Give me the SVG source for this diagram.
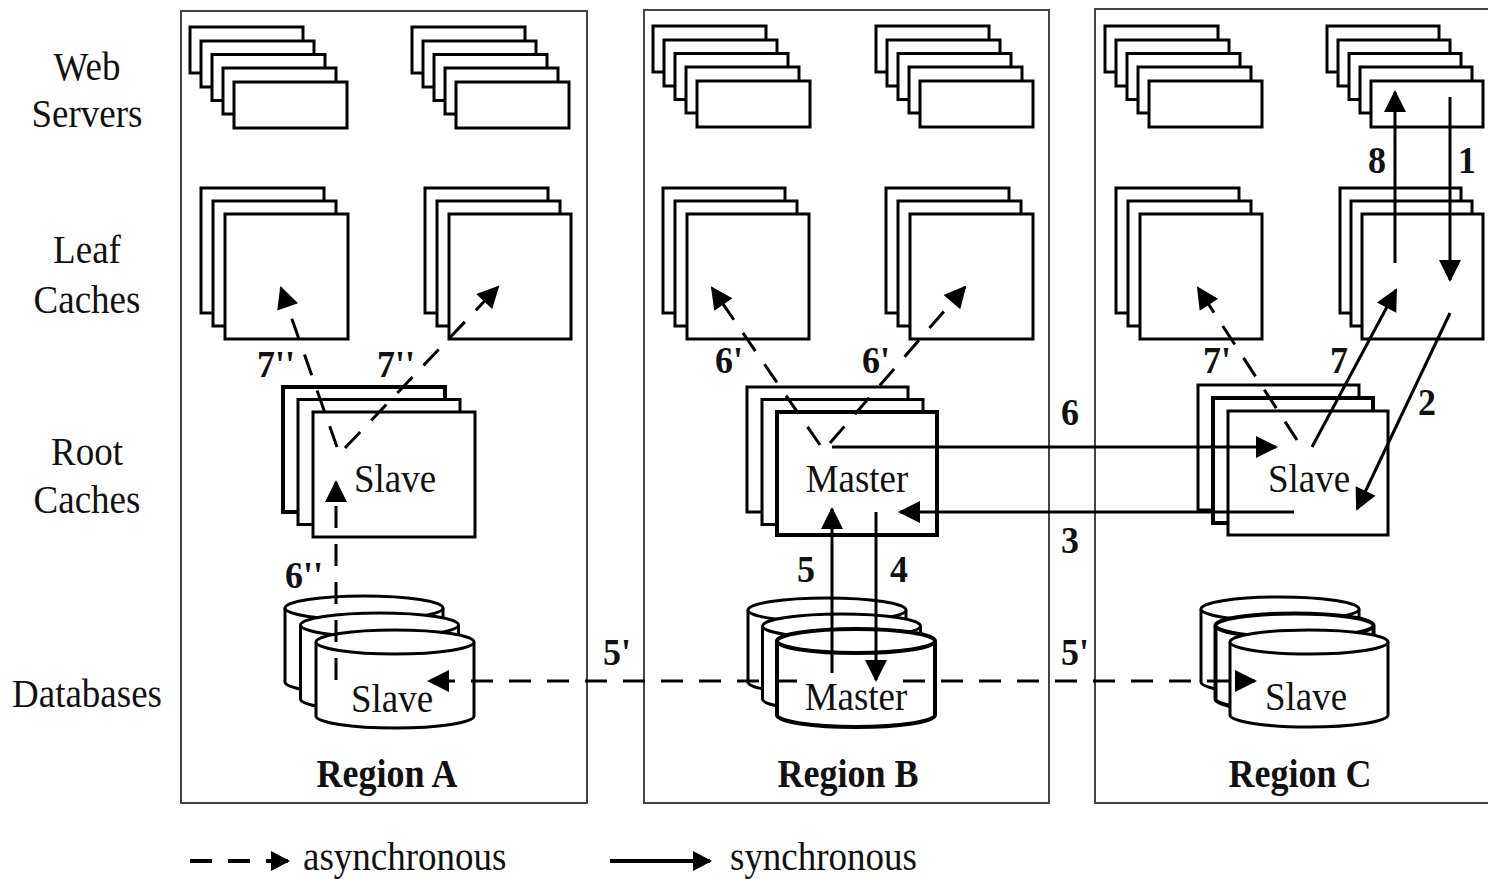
<svg xmlns="http://www.w3.org/2000/svg" width="1488" height="879" viewBox="0 0 1488 879">
  <defs>
    <style>
      .panel { fill: #fff; stroke: #444; stroke-width: 2; }
      .box { fill: #fff; stroke: #000; stroke-width: 3; }
      .thick { stroke-width: 4; }
      .sync { fill: none; stroke: #000; stroke-width: 3; marker-end: url(#head); }
      .async { fill: none; stroke: #000; stroke-width: 3; stroke-dasharray: 22 16; marker-end: url(#head); }
      .lbl { font-family: "Liberation Serif", "Times New Roman", serif; font-size: 37px; fill: #111; }
      .mid { text-anchor: middle; }
      .num { font-family: "Liberation Serif", "Times New Roman", serif; font-size: 36px; font-weight: bold; fill: #111; }
      .title { font-family: "Liberation Serif", "Times New Roman", serif; font-size: 36px; font-weight: bold; fill: #111; text-anchor: middle; }
    </style>
    <marker id="head" markerUnits="userSpaceOnUse" viewBox="-22 -12 26 24" markerWidth="26" markerHeight="24" refX="0" refY="0" orient="auto">
      <path d="M-20,-11 L2,0 L-20,11 Z" fill="#000"/>
    </marker>
    <marker id="headSmall" markerUnits="userSpaceOnUse" viewBox="-19 -11 22 22" markerWidth="22" markerHeight="22" refX="0" refY="0" orient="auto">
      <path d="M-17,-10 L2,0 L-17,10 Z" fill="#000"/>
    </marker>
  </defs>

  <rect width="1488" height="879" fill="#fff"/>

  <!-- tier labels -->
  <g id="tier-labels">
    <text class="lbl mid" x="87" y="80" transform="matrix(1 0 0 1.1 0 -8)">Web</text>
    <text class="lbl mid" x="87" y="127" transform="matrix(1 0 0 1.1 0 -12.7)">Servers</text>
    <text class="lbl mid" x="87" y="263" transform="matrix(1 0 0 1.1 0 -26.3)">Leaf</text>
    <text class="lbl mid" x="87" y="313" transform="matrix(1 0 0 1.1 0 -31.3)">Caches</text>
    <text class="lbl mid" x="87" y="465" transform="matrix(1 0 0 1.1 0 -46.5)">Root</text>
    <text class="lbl mid" x="87" y="513" transform="matrix(1 0 0 1.1 0 -51.3)">Caches</text>
    <text class="lbl mid" x="87" y="707" transform="matrix(1 0 0 1.1 0 -70.7)">Databases</text>
  </g>

  <!-- region frames -->
  <g id="region-a">
    <rect class="panel" x="181" y="11" width="406" height="792"/>
    <text class="title" x="387" y="787" transform="matrix(1 0 0 1.1 0 -78.7)">Region A</text>
  </g>
  <g id="region-b">
    <rect class="panel" x="644" y="10" width="405" height="793"/>
    <text class="title" x="848" y="787" transform="matrix(1 0 0 1.1 0 -78.7)">Region B</text>
  </g>
  <g id="region-c">
    <rect class="panel" x="1095" y="9" width="420" height="794"/>
    <text class="title" x="1300" y="787" transform="matrix(1 0 0 1.1 0 -78.7)">Region C</text>
  </g>

  <!-- web server stacks -->
  <g id="web-a1">
    <rect class="box" x="190" y="27" width="113" height="46"/>
    <rect class="box" x="201" y="41" width="113" height="46"/>
    <rect class="box" x="212" y="54.5" width="113" height="46"/>
    <rect class="box" x="223" y="68" width="113" height="46"/>
    <rect class="box" x="234" y="82" width="113" height="46"/>
  </g>
  <g id="web-a2">
    <rect class="box" x="412" y="27" width="113" height="46"/>
    <rect class="box" x="423" y="41" width="113" height="46"/>
    <rect class="box" x="434" y="54.5" width="113" height="46"/>
    <rect class="box" x="445" y="68" width="113" height="46"/>
    <rect class="box" x="456" y="82" width="113" height="46"/>
  </g>
  <g id="web-b1">
    <rect class="box" x="653" y="26" width="113" height="46"/>
    <rect class="box" x="664" y="40" width="113" height="46"/>
    <rect class="box" x="675" y="53.5" width="113" height="46"/>
    <rect class="box" x="686" y="67" width="113" height="46"/>
    <rect class="box" x="697" y="81" width="113" height="46"/>
  </g>
  <g id="web-b2">
    <rect class="box" x="876" y="26" width="113" height="46"/>
    <rect class="box" x="887" y="40" width="113" height="46"/>
    <rect class="box" x="898" y="53.5" width="113" height="46"/>
    <rect class="box" x="909" y="67" width="113" height="46"/>
    <rect class="box" x="920" y="81" width="113" height="46"/>
  </g>
  <g id="web-c1">
    <rect class="box" x="1105" y="26" width="113" height="46"/>
    <rect class="box" x="1116" y="40" width="113" height="46"/>
    <rect class="box" x="1127" y="53.5" width="113" height="46"/>
    <rect class="box" x="1138" y="67" width="113" height="46"/>
    <rect class="box" x="1149" y="81" width="113" height="46"/>
  </g>
  <g id="web-c2">
    <rect class="box" x="1327" y="26" width="112" height="46"/>
    <rect class="box" x="1338" y="40" width="112" height="46"/>
    <rect class="box" x="1349" y="53.5" width="112" height="46"/>
    <rect class="box" x="1360" y="67" width="112" height="46"/>
    <rect class="box" x="1371" y="81" width="112" height="46"/>
  </g>

  <!-- leaf cache stacks -->
  <g id="leaf-a1">
    <rect class="box" x="201" y="188" width="123" height="125"/>
    <rect class="box" x="213" y="201" width="123" height="125"/>
    <rect class="box" x="225" y="214" width="123" height="125"/>
  </g>
  <g id="leaf-a2">
    <rect class="box" x="425" y="188" width="123" height="125"/>
    <rect class="box" x="437" y="201" width="123" height="125"/>
    <rect class="box" x="449" y="214" width="122" height="125"/>
  </g>
  <g id="leaf-b1">
    <rect class="box" x="663" y="188" width="122" height="125"/>
    <rect class="box" x="675" y="201" width="122" height="125"/>
    <rect class="box" x="687" y="214" width="122" height="125"/>
  </g>
  <g id="leaf-b2">
    <rect class="box" x="886" y="188" width="123" height="125"/>
    <rect class="box" x="898" y="201" width="123" height="125"/>
    <rect class="box" x="910" y="214" width="123" height="125"/>
  </g>
  <g id="leaf-c1">
    <rect class="box" x="1116" y="188" width="123" height="125"/>
    <rect class="box" x="1128" y="201" width="123" height="125"/>
    <rect class="box" x="1140" y="214" width="122" height="125"/>
  </g>
  <g id="leaf-c2">
    <rect class="box" x="1340" y="188" width="121" height="125"/>
    <rect class="box" x="1351" y="201" width="121" height="125"/>
    <rect class="box" x="1362" y="214" width="121" height="125"/>
  </g>

  <!-- root cache stacks -->
  <g id="root-a">
    <rect class="box thick" x="283" y="387" width="162" height="125"/>
    <rect class="box" x="298" y="399.5" width="162" height="125"/>
    <rect class="box" x="313" y="412" width="162" height="125"/>
    <text class="lbl mid" x="395" y="492" transform="matrix(1 0 0 1.1 0 -49.2)">Slave</text>
  </g>
  <g id="root-b">
    <rect class="box" x="747" y="387" width="161" height="125"/>
    <rect class="box" x="762" y="399.5" width="161" height="125"/>
    <rect class="box thick" x="777" y="412" width="160" height="123"/>
    <text class="lbl mid" x="857" y="492" transform="matrix(1 0 0 1.1 0 -49.2)">Master</text>
  </g>
  <g id="root-c">
    <rect class="box" x="1198" y="385" width="161" height="125"/>
    <rect class="box thick" x="1213" y="398" width="160" height="125"/>
    <rect class="box" x="1228" y="411" width="160" height="124"/>
    <text class="lbl mid" x="1309" y="492" transform="matrix(1 0 0 1.1 0 -49.2)">Slave</text>
  </g>

  <!-- database stacks -->
  <g id="db-a">
    <path class="box" d="M285,608 V682 A79,12 0 0 0 443,682 V608"/>
    <ellipse class="box" cx="364" cy="608" rx="79" ry="12"/>
    <path class="box" d="M300.5,625 V699 A79,12 0 0 0 458.5,699 V625"/>
    <ellipse class="box" cx="379.5" cy="625" rx="79" ry="12"/>
    <path class="box" d="M316,642 V716 A79,12 0 0 0 474,716 V642"/>
    <ellipse class="box" cx="395" cy="642" rx="79" ry="12"/>
    <text class="lbl mid" x="392" y="712" transform="matrix(1 0 0 1.1 0 -71.2)">Slave</text>
  </g>
  <g id="db-b">
    <path class="box" d="M748,610 V682 A79,12 0 0 0 906,682 V610"/>
    <ellipse class="box" cx="827" cy="610" rx="79" ry="12"/>
    <path class="box" d="M762.5,626 V699 A79,12 0 0 0 920.5,699 V626"/>
    <ellipse class="box" cx="841.5" cy="626" rx="79" ry="12"/>
    <path class="box thick" d="M777,641 V715 A79,12 0 0 0 935,715 V641"/>
    <ellipse class="box thick" cx="856" cy="641" rx="79" ry="12"/>
    <text class="lbl mid" x="856" y="710" transform="matrix(1 0 0 1.1 0 -71)">Master</text>
  </g>
  <g id="db-c">
    <path class="box" d="M1201,609 V682 A79,12 0 0 0 1359,682 V609"/>
    <ellipse class="box" cx="1280" cy="609" rx="79" ry="12"/>
    <path class="box thick" d="M1215.5,625.5 V699 A79,12 0 0 0 1373.5,699 V625.5"/>
    <ellipse class="box thick" cx="1294.5" cy="625.5" rx="79" ry="12"/>
    <path class="box" d="M1230,642 V715 A79,12 0 0 0 1388,715 V642"/>
    <ellipse class="box" cx="1309" cy="642" rx="79" ry="12"/>
    <text class="lbl mid" x="1306" y="710" transform="matrix(1 0 0 1.1 0 -71)">Slave</text>
  </g>

  <!-- request and invalidation flows -->
  <g id="connectors">
    <!-- synchronous -->
    <line class="sync" x1="1450" y1="97" x2="1450" y2="280"/>
    <line class="sync" x1="1450" y1="313" x2="1357" y2="509"/>
    <line class="sync" x1="1294" y1="512" x2="900" y2="512"/>
    <line class="sync" x1="876" y1="512" x2="876" y2="680"/>
    <line class="sync" x1="832" y1="673" x2="832" y2="509"/>
    <line class="sync" x1="832" y1="447" x2="1276" y2="447"/>
    <line class="sync" x1="1312" y1="447" x2="1396" y2="290"/>
    <line class="sync" x1="1395" y1="263" x2="1395" y2="92"/>
    <!-- asynchronous -->
    <line class="async" x1="797" y1="681" x2="429" y2="681"/>
    <line class="async" x1="903" y1="681" x2="1255" y2="681"/>
    <line class="async" x1="336" y1="680" x2="336" y2="482"/>
    <line class="async" x1="337" y1="447" x2="281" y2="288"/>
    <line class="async" x1="345" y1="448" x2="498" y2="287"/>
    <line class="async" x1="820" y1="445" x2="712" y2="288"/>
    <line class="async" x1="830" y1="443" x2="965" y2="287"/>
    <line class="async" x1="1297" y1="440" x2="1198" y2="288"/>
  </g>

  <!-- step numbers -->
  <g id="step-labels">
    <text class="num" x="1458" y="173" transform="matrix(1 0 0 1.08 0 -13.8)">1</text>
    <text class="num" x="1418" y="415" transform="matrix(1 0 0 1.08 0 -33.2)">2</text>
    <text class="num" x="1061" y="553" transform="matrix(1 0 0 1.08 0 -44.2)">3</text>
    <text class="num" x="890" y="582" transform="matrix(1 0 0 1.08 0 -46.6)">4</text>
    <text class="num" x="797" y="582" transform="matrix(1 0 0 1.08 0 -46.6)">5</text>
    <text class="num" x="1061" y="425" transform="matrix(1 0 0 1.08 0 -34)">6</text>
    <text class="num" x="1330" y="373" transform="matrix(1 0 0 1.08 0 -29.8)">7</text>
    <text class="num" x="1368" y="173" transform="matrix(1 0 0 1.08 0 -13.8)">8</text>
    <text class="num" x="603" y="665" transform="matrix(1 0 0 1.08 0 -53.2)">5'</text>
    <text class="num" x="1061" y="665" transform="matrix(1 0 0 1.08 0 -53.2)">5'</text>
    <text class="num" x="715" y="373" transform="matrix(1 0 0 1.08 0 -29.8)">6'</text>
    <text class="num" x="862" y="373" transform="matrix(1 0 0 1.08 0 -29.8)">6'</text>
    <text class="num" x="285" y="588" transform="matrix(1 0 0 1.08 0 -47)">6''</text>
    <text class="num" x="1203" y="373" transform="matrix(1 0 0 1.08 0 -29.8)">7'</text>
    <text class="num" x="257" y="377" transform="matrix(1 0 0 1.08 0 -30.2)">7''</text>
    <text class="num" x="377" y="377" transform="matrix(1 0 0 1.08 0 -30.2)">7''</text>
  </g>

  <!-- legend -->
  <g id="legend">
    <line x1="190" y1="861" x2="288" y2="861" stroke="#000" stroke-width="4" stroke-dasharray="22 16" marker-end="url(#headSmall)"/>
    <text class="lbl" x="303" y="870" transform="matrix(1 0 0 1.1 0 -87)">asynchronous</text>
    <line x1="610" y1="861" x2="710" y2="861" stroke="#000" stroke-width="4" marker-end="url(#headSmall)"/>
    <text class="lbl" x="730" y="870" transform="matrix(1 0 0 1.1 0 -87)">synchronous</text>
  </g>
</svg>
